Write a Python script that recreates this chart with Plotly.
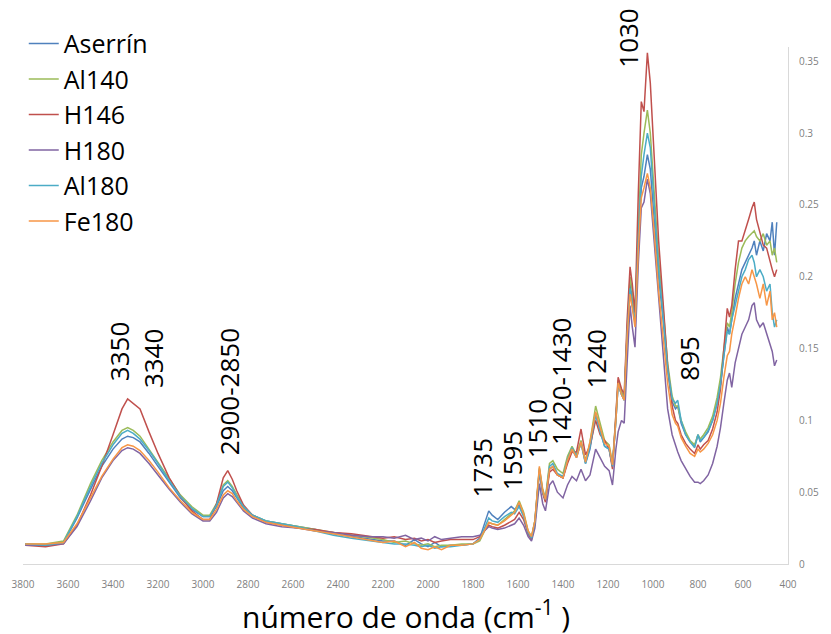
import plotly.graph_objects as go

# Wavenumbers (cm-1)
wavenumber = [3790, 3700, 3620, 3560, 3500, 3450, 3400, 3360, 3335, 3310,
              3280, 3240, 3200, 3150, 3100, 3050, 3000, 2970, 2940, 2910,
              2890, 2870, 2850, 2820, 2780, 2720, 2650, 2580, 2500, 2420,
              2340, 2260, 2200, 2150, 2100, 2060, 2030, 2000, 1970, 1940,
              1900, 1850, 1800, 1770, 1750, 1730, 1715, 1690, 1660, 1630,
              1615, 1595, 1575, 1555, 1540, 1525, 1505, 1490, 1478, 1460,
              1445, 1425, 1400, 1380, 1360, 1340, 1320, 1300, 1280, 1255,
              1235, 1215, 1195, 1180, 1165, 1155, 1140, 1128, 1115, 1102,
              1092, 1080, 1065, 1052, 1040, 1025, 1012, 995, 975, 955,
              935, 915, 900, 890, 875, 855, 835, 815, 800, 790,
              775, 755, 735, 715, 700, 685, 670, 660, 650, 635,
              620, 605, 590, 575, 560, 550, 540, 525, 510, 495,
              480, 470, 460, 450]

aserrin = [.014, .013, .015, .032, .052, .068, .080, .087, .089, .088,
           .085, .077, .068, .057, .046, .038, .033, .033, .040, .051,
           .054, .051, .046, .039, .034, .030, .028, .026, .024, .021,
           .019, .017, .016, .016, .013, .017, .014, .012, .015, .012,
           .013, .013, .014, .018, .027, .037, .034, .031, .036, .040,
           .038, .041, .034, .022, .018, .030, .066, .050, .044, .066,
           .068, .062, .060, .072, .080, .074, .085, .070, .080, .104,
           .093, .082, .080, .068, .100, .125, .118, .114, .160, .195,
           .185, .168, .225, .262, .270, .285, .275, .240, .200, .170,
           .135, .113, .108, .110, .098, .090, .085, .082, .090, .085,
           .088, .092, .100, .112, .125, .145, .165, .160, .170, .185,
           .195, .205, .210, .215, .220, .225, .215, .225, .218, .230,
           .225, .238, .215, .238]

al140 = [.014, .014, .016, .034, .056, .072, .085, .093, .095, .093,
         .089, .080, .071, .059, .048, .040, .034, .034, .042, .055,
         .058, .054, .048, .040, .034, .030, .028, .026, .024, .022,
         .020, .018, .017, .015, .016, .014, .013, .014, .012, .013,
         .013, .014, .014, .016, .022, .029, .028, .027, .031, .035,
         .037, .044, .036, .023, .019, .030, .067, .052, .046, .070,
         .072, .066, .063, .075, .082, .076, .086, .072, .085, .110,
         .097, .086, .083, .070, .103, .128, .120, .116, .163, .200,
         .190, .172, .235, .285, .300, .316, .300, .258, .212, .178,
         .140, .117, .110, .110, .100, .092, .086, .083, .090, .087,
         .090, .095, .103, .116, .130, .150, .168, .165, .175, .195,
         .210, .220, .225, .228, .230, .232, .228, .225, .230, .222,
         .225, .215, .220, .210]

h146 = [.013, .012, .014, .027, .048, .068, .090, .108, .115, .112,
        .108, .092, .077, .060, .047, .037, .031, .031, .042, .060,
        .065, .059, .051, .041, .034, .029, .027, .025, .024, .022,
        .021, .019, .018, .019, .017, .018, .016, .017, .015, .016,
        .017, .017, .017, .019, .023, .027, .026, .025, .027, .030,
        .031, .036, .031, .021, .017, .028, .064, .049, .043, .064,
        .066, .062, .060, .070, .078, .078, .094, .076, .082, .100,
        .090, .086, .080, .066, .105, .130, .122, .118, .170, .207,
        .195, .175, .260, .322, .315, .356, .335, .285, .225, .182,
        .138, .110, .100, .098, .090, .084, .080, .077, .083, .080,
        .083, .086, .094, .106, .122, .150, .178, .172, .180, .205,
        .225, .225, .232, .240, .248, .252, .240, .230, .222, .220,
        .210, .205, .200, .205]

h180 = [.013, .013, .014, .026, .044, .060, .072, .079, .081, .080,
        .077, .070, .062, .052, .043, .035, .030, .030, .036, .046,
        .049, .047, .043, .037, .032, .028, .026, .025, .023, .022,
        .020, .019, .019, .018, .020, .017, .018, .016, .019, .017,
        .018, .019, .019, .020, .023, .026, .025, .024, .025, .027,
        .028, .032, .027, .019, .016, .025, .056, .042, .037, .055,
        .058, .050, .046, .055, .061, .058, .066, .058, .062, .080,
        .074, .068, .065, .055, .080, .092, .100, .098, .140, .180,
        .165, .151, .210, .248, .252, .268, .258, .225, .180, .142,
        .108, .090, .082, .078, .072, .066, .061, .057, .057, .056,
        .058, .062, .070, .082, .095, .112, .128, .133, .123, .140,
        .150, .160, .165, .170, .180, .182, .170, .165, .168, .160,
        .152, .148, .138, .142]

al180 = [.014, .013, .015, .033, .054, .070, .083, .091, .093, .091,
         .087, .079, .070, .058, .047, .039, .033, .033, .041, .054,
         .057, .053, .047, .040, .034, .030, .028, .026, .023, .020,
         .018, .016, .015, .014, .014, .013, .012, .013, .011, .012,
         .012, .013, .014, .017, .024, .032, .030, .029, .033, .036,
         .035, .040, .033, .022, .018, .029, .065, .050, .045, .068,
         .070, .063, .061, .073, .081, .075, .084, .070, .082, .105,
         .092, .082, .080, .068, .100, .125, .118, .114, .160, .192,
         .180, .168, .228, .270, .285, .300, .290, .250, .205, .172,
         .136, .115, .112, .114, .100, .090, .085, .081, .090, .086,
         .088, .093, .100, .112, .125, .145, .162, .160, .170, .180,
         .190, .200, .205, .212, .215, .210, .200, .205, .200, .190,
         .195, .175, .165, .170]

fe180 = [.014, .014, .015, .028, .046, .061, .073, .081, .083, .082,
         .079, .072, .064, .053, .044, .036, .031, .031, .038, .048,
         .051, .049, .044, .038, .033, .029, .027, .025, .023, .021,
         .019, .017, .015, .016, .012, .015, .011, .010, .012, .010,
         .013, .013, .014, .017, .023, .029, .028, .027, .030, .034,
         .036, .043, .035, .023, .019, .030, .068, .051, .045, .066,
         .068, .062, .060, .072, .080, .074, .085, .071, .085, .106,
         .094, .084, .082, .069, .100, .126, .118, .114, .158, .188,
         .178, .165, .220, .255, .262, .272, .262, .232, .190, .158,
         .126, .104, .098, .096, .088, .082, .077, .075, .080, .078,
         .080, .084, .090, .100, .112, .130, .145, .148, .160, .172,
         .185, .195, .200, .195, .205, .200, .195, .185, .195, .180,
         .190, .170, .175, .165]

series_names = ["Aserrín", "Al140", "H146", "H180", "Al180", "Fe180"]
series_values = [aserrin, al140, h146, h180, al180, fe180]
series_colors = ["#4F81BD", "#9BBB59", "#C0504D", "#8064A2", "#4BACC6", "#F79646"]

# Peak labels: text, wavenumber position, bottom of label (absorbance units)
peak_texts = ["3350", "3340", "2900-2850", "1735", "1595", "1510", "1420-1430", "1240", "1030", "895"]
peak_x = [3375, 3225, 2885, 1760, 1629, 1516, 1407, 1254, 1110, 844]
peak_y = [0.126, 0.121, 0.0746, 0.0446, 0.050, 0.0725, 0.0815, 0.121, 0.344, 0.126]

x_ticks = list(range(3800, 399, -200))
y_ticks = [0, 0.05, 0.1, 0.15, 0.2, 0.25, 0.3, 0.35]

fig = go.Figure()
for name, vals, col in zip(series_names, series_values, series_colors):
    fig.add_trace(go.Scatter(x=wavenumber, y=vals, mode="lines", name=name,
                             line=dict(color=col, width=1.5)))

annotations = []
for t, px, py in zip(peak_texts, peak_x, peak_y):
    annotations.append(dict(x=px, y=py, xref="x", yref="y", text=t, textangle=-90,
                            showarrow=False, xanchor="center", yanchor="bottom",
                            font=dict(size=26, color="black", family="Open Sans")))
annotations.append(dict(x=0.5, y=-0.098, xref="paper", yref="paper",
                        text="número de onda (cm<sup>-1</sup> )", showarrow=False,
                        xanchor="center", yanchor="middle",
                        font=dict(size=30, color="black", family="Open Sans")))

fig.update_layout(
    width=831, height=634,
    margin=dict(l=18, r=33, t=47, b=70),
    plot_bgcolor="white", paper_bgcolor="white",
    font=dict(family="Open Sans"),
    legend=dict(x=0.001, y=1.051, xanchor="left", yanchor="top",
                font=dict(size=25, color="black", family="Open Sans"),
                bgcolor="rgba(0,0,0,0)"),
    annotations=annotations,
    xaxis=dict(range=[3800, 400], tickvals=x_ticks, ticktext=[str(v) for v in x_ticks],
               showline=True, linecolor="#d9d9d9", linewidth=1, showgrid=False,
               zeroline=False, ticks="", ticklabelstandoff=11,
               tickfont=dict(size=10, color="#808080")),
    yaxis=dict(range=[0, 0.36], tickvals=y_ticks, side="right",
               showline=True, linecolor="#d9d9d9", linewidth=1, showgrid=False,
               zeroline=False, ticks="", ticklabelstandoff=8,
               tickfont=dict(size=10, color="#808080")),
)

fig.write_html("out.html")
